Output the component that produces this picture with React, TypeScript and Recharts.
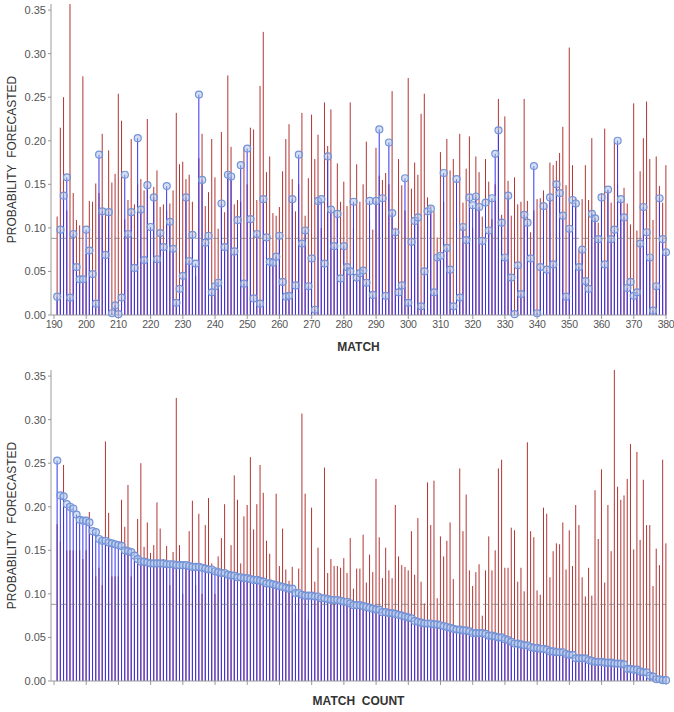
import React from 'react';
import { ComposedChart, Bar, Scatter, XAxis, YAxis, ReferenceLine } from 'recharts';

// Matches 191..380
const matches: number[] = Array.from({ length: 190 }, (_, i) => 191 + i);

// Red stems (probability, first forecast) per match, 191..380
const redProb: number[] = [
  0.113, 0.215, 0.250, 0.120, 0.357, 0.140, 0.109, 0.103, 0.274, 0.070,
  0.131, 0.130, 0.151, 0.140, 0.208, 0.122, 0.189, 0.152, 0.162, 0.254,
  0.223, 0.110, 0.132, 0.202, 0.127, 0.150, 0.156, 0.143, 0.225, 0.080,
  0.147, 0.166, 0.124, 0.127, 0.120, 0.128, 0.143, 0.232, 0.173, 0.176,
  0.156, 0.161, 0.130, 0.045, 0.180, 0.208, 0.125, 0.141, 0.202, 0.158,
  0.099, 0.210, 0.118, 0.275, 0.193, 0.127, 0.132, 0.130, 0.192, 0.150,
  0.215, 0.213, 0.132, 0.263, 0.325, 0.164, 0.182, 0.117, 0.114, 0.124,
  0.165, 0.202, 0.219, 0.156, 0.119, 0.150, 0.232, 0.114, 0.157, 0.230,
  0.179, 0.207, 0.100, 0.244, 0.194, 0.236, 0.118, 0.174, 0.130, 0.153,
  0.125, 0.244, 0.100, 0.173, 0.130, 0.150, 0.199, 0.110, 0.098, 0.192,
  0.160, 0.155, 0.163, 0.150, 0.257, 0.100, 0.179, 0.149, 0.120, 0.272,
  0.145, 0.175, 0.161, 0.231, 0.254, 0.135, 0.125, 0.119, 0.089, 0.187,
  0.130, 0.202, 0.166, 0.179, 0.120, 0.208, 0.129, 0.168, 0.205, 0.100,
  0.182, 0.164, 0.113, 0.179, 0.153, 0.110, 0.150, 0.248, 0.115, 0.228,
  0.154, 0.114, 0.158, 0.127, 0.130, 0.248, 0.131, 0.095, 0.120, 0.133,
  0.134, 0.143, 0.127, 0.175, 0.172, 0.177, 0.186, 0.216, 0.149, 0.307,
  0.172, 0.135, 0.075, 0.133, 0.172, 0.132, 0.203, 0.112, 0.106, 0.140,
  0.214, 0.143, 0.129, 0.199, 0.150, 0.130, 0.146, 0.128, 0.104, 0.243,
  0.097, 0.165, 0.203, 0.245, 0.179, 0.109, 0.182, 0.148, 0.129, 0.172,
];

// Blue stems with circles (probability forecasted) per match, 191..380
const blueProb: number[] = [
  0.021, 0.098, 0.137, 0.158, 0.020, 0.093, 0.055, 0.041, 0.041, 0.098,
  0.074, 0.047, 0.013, 0.184, 0.119, 0.069, 0.118, 0.002, 0.011, 0.001,
  0.020, 0.161, 0.093, 0.118, 0.054, 0.203, 0.121, 0.063, 0.149, 0.101,
  0.135, 0.064, 0.094, 0.078, 0.148, 0.107, 0.076, 0.014, 0.030, 0.045,
  0.135, 0.062, 0.092, 0.059, 0.253, 0.155, 0.083, 0.091, 0.026, 0.033,
  0.037, 0.128, 0.078, 0.161, 0.159, 0.073, 0.109, 0.172, 0.036, 0.191,
  0.110, 0.019, 0.093, 0.013, 0.133, 0.089, 0.061, 0.060, 0.067, 0.091,
  0.038, 0.021, 0.022, 0.133, 0.034, 0.184, 0.082, 0.097, 0.033, 0.065,
  0.006, 0.131, 0.133, 0.059, 0.182, 0.121, 0.079, 0.116, 0.042, 0.079,
  0.055, 0.050, 0.130, 0.043, 0.048, 0.051, 0.037, 0.131, 0.023, 0.131,
  0.213, 0.134, 0.022, 0.198, 0.117, 0.095, 0.026, 0.034, 0.157, 0.014,
  0.084, 0.108, 0.112, 0.010, 0.050, 0.119, 0.122, 0.026, 0.066, 0.068,
  0.163, 0.077, 0.052, 0.010, 0.156, 0.020, 0.101, 0.086, 0.135, 0.126,
  0.136, 0.124, 0.085, 0.129, 0.097, 0.134, 0.185, 0.212, 0.106, 0.066,
  0.137, 0.043, 0.001, 0.057, 0.024, 0.115, 0.106, 0.065, 0.171, 0.002,
  0.055, 0.125, 0.052, 0.135, 0.058, 0.150, 0.140, 0.114, 0.021, 0.099,
  0.132, 0.128, 0.055, 0.075, 0.039, 0.030, 0.116, 0.111, 0.087, 0.135,
  0.058, 0.144, 0.087, 0.098, 0.200, 0.133, 0.112, 0.031, 0.038, 0.022,
  0.026, 0.082, 0.124, 0.095, 0.066, 0.005, 0.033, 0.134, 0.087, 0.072,
];

const matchTicks: number[] = [190, 200, 210, 220, 230, 240, 250, 260, 270, 280, 290, 300, 310, 320, 330, 340, 350, 360, 370, 380];
const countTicks: number[] = [0, 10, 20, 30, 40, 50, 60, 70, 80, 90, 100, 110, 120, 130, 140, 150, 160, 170, 180, 190];
const probTicks: number[] = [0, 0.05, 0.1, 0.15, 0.2, 0.25, 0.3, 0.35];
const baseRate = 0.088;

type Row = { x: number; red: number; blue: number };

const topData: Row[] = matches.map((m, i) => ({ x: m, red: redProb[i], blue: blueProb[i] }));
const bottomData: Row[] = [...topData]
  .sort((a, b) => b.blue - a.blue)
  .map((d, i) => ({ x: i + 1, red: d.red, blue: d.blue }));

const FONT = '"Liberation Sans", Arial, Helvetica, sans-serif';
const RED = '#b23434';
const BLUE = '#3333ee';

const stem = (color: string) => (props: any) => {
  const { x, y, width, height } = props;
  if (x == null || y == null || !isFinite(x) || !isFinite(y)) return <g />;
  const cx = x + (width || 0) / 2;
  return <line x1={cx} x2={cx} y1={y} y2={y + (height || 0)} stroke={color} strokeWidth={1} />;
};

const dot = (props: any) => {
  const { cx, cy } = props;
  if (cx == null || cy == null) return <g />;
  return (
    <circle cx={cx} cy={cy} r={3.5} fill="#a9bfea" fillOpacity={0.5} stroke="#7393d6" strokeWidth={1.2} />
  );
};

type PanelProps = {
  data: Row[];
  ticks: number[];
  domain: [number, number];
  xLabel: string;
  height: number;
  marginTop: number;
  xAxisHeight: number;
  labelOffset: number;
  showTickLabels: boolean;
};

const Panel = ({ data, ticks, domain, xLabel, height, marginTop, xAxisHeight, labelOffset, showTickLabels }: PanelProps) => (
  <ComposedChart
    width={674}
    height={height}
    data={data}
    margin={{ top: marginTop, right: 8, left: 0, bottom: 0 }}
    barGap={-1}
  >
    <XAxis
      dataKey="x"
      type="number"
      domain={domain}
      ticks={ticks}
      interval={0}
      padding={{ left: 3, right: 0 }}
      height={xAxisHeight}
      axisLine={{ stroke: '#9a9a9a' }}
      tickLine={{ stroke: '#9a9a9a' }}
      tickSize={4}
      tick={{ fontSize: 10.5, fill: '#555', fontFamily: FONT, letterSpacing: -0.3 }}
      tickFormatter={(v: number) => (showTickLabels ? String(v) : '')}
      label={{
        value: xLabel,
        position: 'insideBottom',
        offset: labelOffset,
        style: { fontSize: 12, fontWeight: 'bold', fill: '#333', fontFamily: FONT },
      }}
    />
    <YAxis
      type="number"
      width={51}
      domain={[0, 'dataMax']}
      ticks={probTicks}
      interval={0}
      axisLine={{ stroke: '#9a9a9a' }}
      tickLine={{ stroke: '#9a9a9a' }}
      tickSize={3}
      tickMargin={2}
      tick={{ fontSize: 11, fill: '#555', fontFamily: FONT }}
      tickFormatter={(v: number) => v.toFixed(2)}
      label={{
        value: 'PROBABILITY\u00A0 FORECASTED',
        angle: -90,
        position: 'insideLeft',
        offset: 12,
        style: { fontSize: 12, fill: '#333', fontFamily: FONT, textAnchor: 'middle' },
      }}
    />
    <Bar dataKey="red" barSize={1} shape={stem(RED)} isAnimationActive={false} />
    <Bar dataKey="blue" barSize={1} shape={stem(BLUE)} isAnimationActive={false} />
    <ReferenceLine y={baseRate} stroke="#7a7a7a" strokeOpacity={0.75} strokeDasharray="6 3" />
    <Scatter dataKey="blue" shape={dot} isAnimationActive={false} />
  </ComposedChart>
);

export default function App() {
  return (
    <div
      style={{
        position: 'absolute',
        left: 0,
        top: 0,
        width: 674,
        height: 712,
        background: '#fff',
        fontFamily: FONT,
        overflow: 'hidden',
      }}
    >
      <div style={{ position: 'absolute', left: 0, top: 0 }}>
        <Panel
          data={topData}
          ticks={matchTicks}
          domain={[190, 380]}
          xLabel="MATCH"
          height={355}
          marginTop={4}
          xAxisHeight={40}
          labelOffset={4}
          showTickLabels={true}
        />
      </div>
      <div style={{ position: 'absolute', left: 0, top: 355 }}>
        <Panel
          data={bottomData}
          ticks={countTicks}
          domain={[0, 190]}
          xLabel={'MATCH\u00A0 COUNT'}
          height={357}
          marginTop={15}
          xAxisHeight={31}
          labelOffset={7}
          showTickLabels={false}
        />
      </div>
    </div>
  );
}
